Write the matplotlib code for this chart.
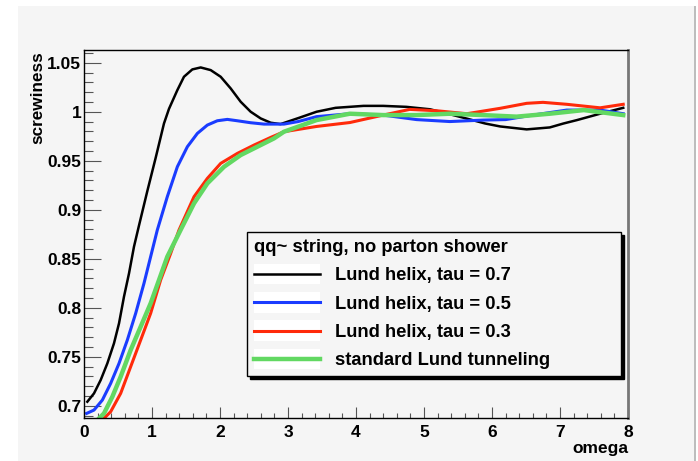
import matplotlib
matplotlib.use("Agg")
import matplotlib.pyplot as plt
from matplotlib.patches import Rectangle
from matplotlib.legend_handler import HandlerLine2D
from matplotlib.ticker import MultipleLocator

# values
x_tau07 = [0.049, 0.147, 0.245, 0.343, 0.441, 0.515, 0.588, 0.662, 0.735, 0.809, 0.931,
           1.054, 1.176, 1.25, 1.373, 1.47, 1.593, 1.716, 1.863, 2.01, 2.157, 2.304, 2.451,
           2.598, 2.745, 2.89, 3.15, 3.42, 3.7, 4.11, 4.4, 4.74, 5.09, 5.35, 5.63, 5.9,
           6.12, 6.51, 6.85, 7.05, 7.25, 7.59, 7.93]
y_tau07 = [0.7041, 0.7126, 0.7262, 0.7432, 0.7637, 0.7841, 0.8113, 0.8351, 0.8623, 0.884,
           0.9190, 0.9530, 0.9880, 1.0030, 1.0221, 1.0357, 1.0432, 1.0452, 1.0425, 1.0357,
           1.0238, 1.0102, 1.0, 0.9932, 0.9888, 0.9874, 0.9935, 1.0, 1.004, 1.006, 1.006,
           1.005, 1.0025, 0.998, 0.993, 0.988, 0.985, 0.982, 0.984, 0.988, 0.9915, 0.998,
           1.004]

x_tau05 = [0.039, 0.147, 0.27, 0.392, 0.515, 0.637, 0.76, 0.882, 0.98, 1.078, 1.225, 1.373,
           1.52, 1.667, 1.814, 1.96, 2.108, 2.255, 2.45, 2.647, 2.94, 3.15, 3.42, 3.91, 4.4,
           4.89, 5.38, 5.87, 6.2, 6.6, 7.1, 7.59, 7.93]
y_tau05 = [0.6922, 0.6956, 0.7058, 0.7228, 0.7432, 0.767, 0.7943, 0.8249, 0.8521, 0.8793,
           0.9133, 0.9439, 0.9643, 0.9779, 0.9864, 0.9908, 0.9922, 0.9908, 0.9888, 0.9874,
           0.9874, 0.990, 0.995, 0.998, 0.9966, 0.992, 0.990, 0.9915, 0.992, 0.9966, 1.0017,
           1.0017, 0.998]

x_tau03 = [0.27, 0.392, 0.539, 0.686, 0.833, 0.98, 1.127, 1.275, 1.397, 1.618, 1.814, 2.01,
           2.255, 2.5, 2.745, 2.94, 3.42, 3.91, 4.40, 4.79, 5.19, 5.63, 6.12, 6.51, 6.75,
           7.1, 7.59, 7.93]
y_tau03 = [0.6854, 0.6939, 0.7126, 0.7398, 0.767, 0.7943, 0.8283, 0.8555, 0.8793, 0.9133,
           0.932, 0.9473, 0.9575, 0.966, 0.9738, 0.9796, 0.985, 0.989, 0.9966, 1.0024, 1.001,
           0.998, 1.0035, 1.0086, 1.0096, 1.0076, 1.004, 1.0076]

x_std = [0.206, 0.294, 0.417, 0.539, 0.686, 0.833, 0.98, 1.103, 1.225, 1.42, 1.618, 1.814,
         2.06, 2.304, 2.549, 2.794, 2.94, 3.42, 3.91, 4.40, 4.89, 5.38, 5.87, 6.36, 6.85,
         7.35, 7.93]
y_std = [0.686, 0.6922, 0.7092, 0.7296, 0.7568, 0.7806, 0.8045, 0.8283, 0.8521, 0.8793,
         0.9065, 0.9269, 0.9439, 0.9558, 0.9643, 0.9728, 0.9796, 0.9915, 0.998, 0.9966,
         0.9966, 0.998, 0.9966, 0.995, 0.998, 1.0017, 0.9966]

labels = ["Lund helix, tau = 0.7", "Lund helix, tau = 0.5",
          "Lund helix, tau = 0.3", "standard Lund tunneling"]
legend_title = "qq~ string, no parton shower"

W, H = 698, 461
bg = "#f5f5f5"
font = "Liberation Sans"

fig = plt.figure(figsize=(W / 100, H / 100), dpi=100, facecolor="white")
# ROOT canvas pad
fig.patches.append(Rectangle((18 / W, 0), (694 - 18) / W, 1 - 6 / H,
                             transform=fig.transFigure, facecolor=bg, edgecolor="none", zorder=-10))
fig.patches.append(Rectangle((694 / W, 0), 2 / W, 1 - 6 / H,
                             transform=fig.transFigure, facecolor="#bdbdbd", edgecolor="none", zorder=-10))

ax = fig.add_axes([84 / W, (H - 418) / H, (628 - 84) / W, (418 - 50.5) / H])
ax.set_facecolor(bg)

ax.plot(x_tau07, y_tau07, color="black", lw=1.8, label=labels[0])
ax.plot(x_tau05, y_tau05, color="#1a3cff", lw=2.2, label=labels[1])
ax.plot(x_tau03, y_tau03, color="#ff2a0a", lw=2.2, label=labels[2])
ax.plot(x_std, y_std, color="#62d862", lw=3.2, label=labels[3])

ax.set_xlim(0, 8)
ax.set_ylim(0.6875, 1.0625)
ax.xaxis.set_major_locator(MultipleLocator(1))
ax.xaxis.set_minor_locator(MultipleLocator(0.2))
ax.yaxis.set_minor_locator(MultipleLocator(0.01))
ax.set_yticks([0.7, 0.75, 0.8, 0.85, 0.9, 0.95, 1.0, 1.05])
ax.set_yticklabels(["0.7", "0.75", "0.8", "0.85", "0.9", "0.95", "1", "1.05"])

ax.tick_params(axis="both", which="both", direction="in", color="#555555", width=0.8,
               top=False, right=False, labelsize=12.5)
ax.tick_params(axis="y", which="major", length=12, pad=2)
ax.tick_params(axis="y", which="minor", length=6.5)
ax.tick_params(axis="x", which="major", length=8, pad=5)
ax.tick_params(axis="x", which="minor", length=3.6)
for lab in ax.get_xticklabels() + ax.get_yticklabels():
    lab.set_fontfamily(font)
    lab.set_fontweight("bold")

for s in ["left", "bottom", "top"]:
    ax.spines[s].set_color("black")
    ax.spines[s].set_linewidth(1)
ax.spines["right"].set_color("#777777")
ax.spines["right"].set_linewidth(2)

fig.text(37.5 / W, 1 - 51 / H, "screwiness", rotation=90, ha="center", va="top",
         fontsize=12.3, fontweight="bold", fontfamily=font)
fig.text(628 / W, 1 - 448 / H, "omega", ha="right", va="center",
         fontsize=12.5, fontweight="bold", fontfamily=font)


class WhiteBoxLine(HandlerLine2D):
    # ROOT draws each legend sample on a small white box
    def create_artists(self, legend, orig_handle, xdescent, ydescent, width, height,
                       fontsize, trans):
        arts = super().create_artists(legend, orig_handle, xdescent, ydescent, width,
                                      height, fontsize, trans)
        box = Rectangle((-xdescent, -ydescent - 0.3 * height), width, 1.6 * height,
                        facecolor="white", edgecolor="none", transform=trans)
        return [box] + arts


leg = ax.legend(loc="upper left",
                bbox_to_anchor=(247 / W, 1 - 375 / H, (621 - 247) / W, (375 - 232) / H),
                bbox_transform=fig.transFigure, borderaxespad=0, mode="expand",
                title=legend_title, alignment="left",
                prop={"family": font, "weight": "bold", "size": 13.2},
                title_fontproperties={"family": font, "weight": "bold", "size": 13.2},
                fancybox=False, shadow={"color": "black", "alpha": 1},
                framealpha=1, facecolor=bg, edgecolor="black",
                handlelength=3.6, handletextpad=0.8, labelspacing=0.62, borderpad=0.38,
                handler_map={l: WhiteBoxLine() for l in ax.get_lines()})
leg.get_frame().set_linewidth(1)

fig.savefig("out.png", dpi=100, facecolor="white")
